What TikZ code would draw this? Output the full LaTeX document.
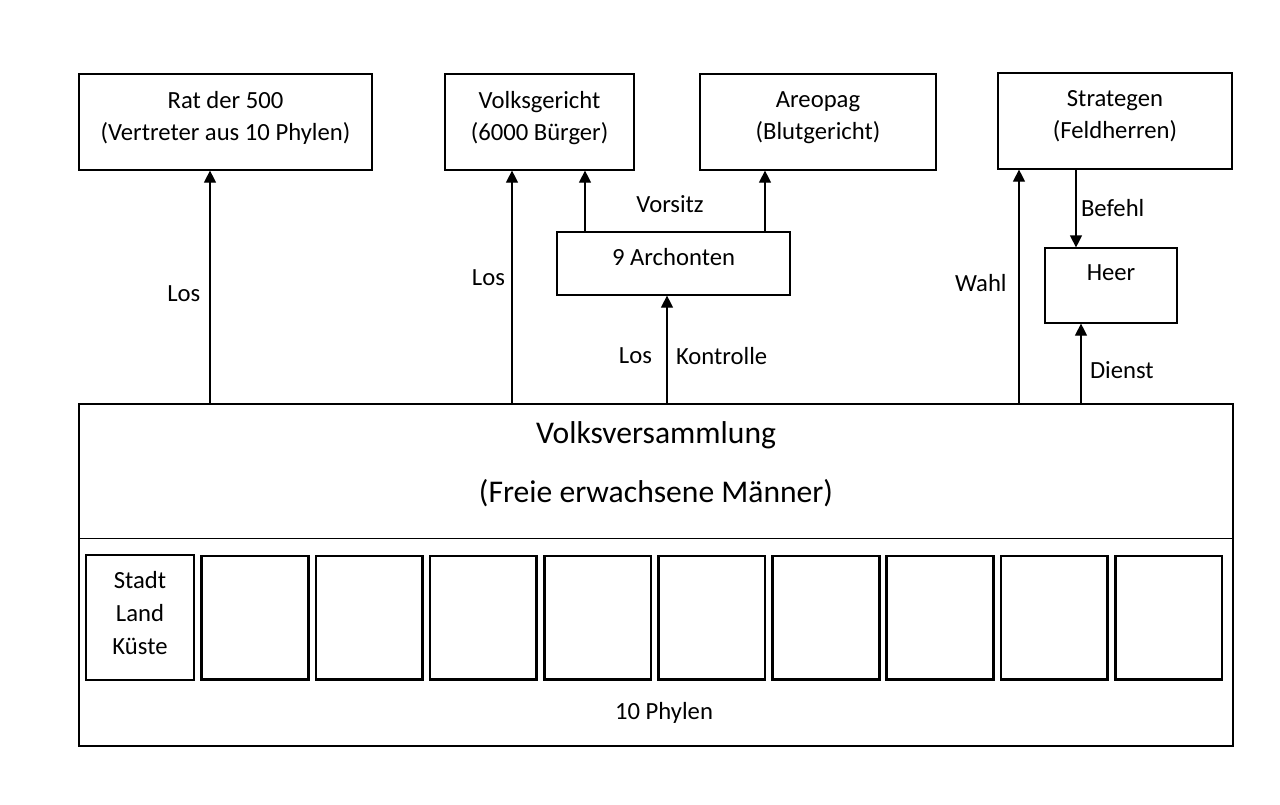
\documentclass[tikz,border=0pt]{standalone}
\usepackage{fontspec}
\setmainfont{Carlito}
\usetikzlibrary{arrows.meta, positioning, calc}

\tikzset{
  organ/.style={draw, line width=0.9pt, minimum height=72pt, inner sep=0pt},
  phyle/.style={draw, line width=2pt, minimum width=80pt, minimum height=92.5pt, inner sep=0pt},
  big/.style={font=\fontsize{23.7}{28}\selectfont}
}

\begin{document}
\begin{tikzpicture}[x=0.75pt, y=-0.75pt, >={Triangle[width=9pt,length=9pt]}, every node/.style={font=\fontsize{18.5}{24}\selectfont}]
\useasboundingbox (0,0) rectangle (1280,804);

% Organe oben
\node[organ, minimum width=219.75pt, label={[align=center,yshift=3pt]center:Rat der 500\\(Vertreter aus 10 Phylen)}] (rat) at (225.5,122) {};
\node[organ, minimum width=141.75pt, label={[align=center,yshift=3pt]center:Volksgericht\\(6000 Bürger)}] (vg) at (539.5,122) {};
\node[organ, minimum width=177pt, label={[align=center,yshift=3pt]center:Areopag\\(Blutgericht)}] (areo) at (818,122) {};
\node[organ, minimum width=175.5pt, label={[align=center,yshift=3.75pt]center:Strategen\\(Feldherren)}] (strat) at (1115,121) {};

% Archonten und Heer
\node[organ, minimum width=174.75pt, minimum height=47.25pt, label={[yshift=4.9pt]center:9 Archonten}] (arch) at (673.5,263.5) {};
\node[organ, minimum width=99pt, minimum height=56.25pt, label={[yshift=9.4pt]center:Heer}] (heer) at (1111,285.5) {};

% Volksversammlung
\node[draw, line width=0.9pt, minimum width=865.5pt, minimum height=256.5pt, inner sep=0pt] (vv) at (656,575) {};
\draw[line width=0.9pt] ([yshift=-101.25pt]vv.north west) -- ([yshift=-101.25pt]vv.north east);
\node[big] (vvname) at (656,435) {Volksversammlung};
\node[big] (vvsub) at (656,493) {(Freie erwachsene Männer)};

% Phylen
\node[draw, line width=0.9pt, minimum width=81pt, minimum height=93.75pt, inner sep=0pt, align=center, font=\fontsize{18.5}{24.75}\selectfont] (stadt) at (140,617.5) {\raisebox{0pt}{}Stadt\\Land\\Küste\vspace{6pt}};
\foreach \i in {1,...,9}
  \node[phyle] (p\i) at ({255+114.19*(\i-1)},617.5) {};
\node (phylen) at (664,713) {10 Phylen};

% Verbindungen
\draw[->, line width=0.9pt] ([xshift=-11.625pt]rat.south |- vv.north) -- node[pos=0.47, left, xshift=-3.5pt] {Los} ([xshift=-11.625pt]rat.south);
\draw[->, line width=0.9pt] ([xshift=-20.625pt]vg.south |- vv.north) -- node[pos=0.54, left, xshift=-1.5pt] {Los} ([xshift=-20.625pt]vg.south);
\draw[->, line width=0.9pt] ([xshift=34.125pt]vg.south |- arch.north) -- ([xshift=34.125pt]vg.south);
\draw[->, line width=0.9pt] ([xshift=-39.75pt]areo.south |- arch.north) -- ([xshift=-39.75pt]areo.south);
\node (vorsitz) at (670,204) {Vorsitz};
\draw[->, line width=0.9pt] ([xshift=-4.875pt]arch.south |- vv.north) -- node[pos=0.44, left, xshift=-7.5pt] {Los} node[pos=0.44, right, xshift=3pt] {Kontrolle} ([xshift=-4.875pt]arch.south);
\draw[->, line width=0.9pt] ([xshift=-72pt]strat.south |- vv.north) -- node[pos=0.515, left, xshift=-5.5pt] {Wahl} ([xshift=-72pt]strat.south);
\draw[->, line width=0.9pt] ([xshift=-29.25pt]strat.south) -- node[right] {Befehl} ([xshift=-29.25pt]strat.south |- heer.north);
\draw[->, line width=0.9pt] ([xshift=-22.5pt]heer.south |- vv.north) -- node[pos=0.42, right, xshift=3pt] {Dienst} ([xshift=-22.5pt]heer.south);

\end{tikzpicture}
\end{document}
